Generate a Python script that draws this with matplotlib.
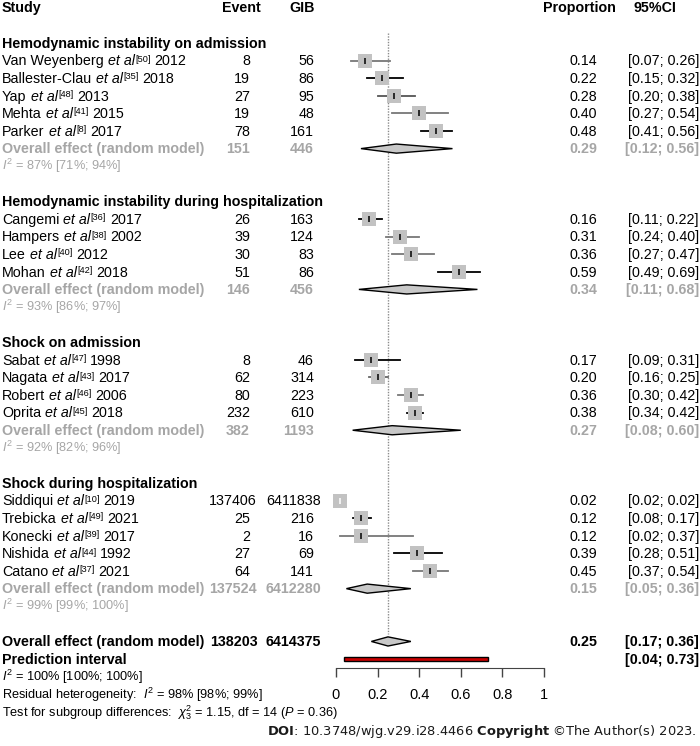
import matplotlib.pyplot as plt
import matplotlib.transforms as mtransforms

plt.rcParams['font.family'] = ['Liberation Sans', 'DejaVu Sans']
plt.rcParams['mathtext.fontset'] = 'custom'
plt.rcParams['mathtext.rm'] = 'Liberation Sans'
plt.rcParams['mathtext.it'] = 'Liberation Sans:italic'
plt.rcParams['mathtext.bf'] = 'Liberation Sans:bold'

# Data
group_names = ["Hemodynamic instability on admission",
               "Hemodynamic instability during hospitalization",
               "Shock on admission",
               "Shock during hospitalization"]
authors = [["Van Weyenberg", "Ballester-Clau", "Yap", "Mehta", "Parker"],
           ["Cangemi", "Hampers", "Lee", "Mohan"],
           ["Sabat", "Nagata", "Robert", "Oprita"],
           ["Siddiqui", "Trebicka", "Konecki", "Nishida", "Catano"]]
refs = [[50, 35, 48, 41, 8], [36, 38, 40, 42], [47, 43, 46, 45], [10, 49, 39, 44, 37]]
years = [[2012, 2018, 2013, 2015, 2017], [2017, 2002, 2012, 2018],
         [1998, 2017, 2006, 2018], [2019, 2021, 2017, 1992, 2021]]
events = [[8, 19, 27, 19, 78], [26, 39, 30, 51], [8, 62, 80, 232],
          [137406, 25, 2, 27, 64]]
gib = [[56, 86, 95, 48, 161], [163, 124, 83, 86], [46, 314, 223, 610],
       [6411838, 216, 16, 69, 141]]
prop = [[0.14, 0.22, 0.28, 0.40, 0.48], [0.16, 0.31, 0.36, 0.59],
        [0.17, 0.20, 0.36, 0.38], [0.02, 0.12, 0.12, 0.39, 0.45]]
ci_lo = [[0.07, 0.15, 0.20, 0.27, 0.41], [0.11, 0.24, 0.27, 0.49],
         [0.09, 0.16, 0.30, 0.34], [0.02, 0.08, 0.02, 0.28, 0.37]]
ci_hi = [[0.26, 0.32, 0.38, 0.54, 0.56], [0.22, 0.40, 0.47, 0.69],
         [0.31, 0.25, 0.42, 0.42], [0.02, 0.17, 0.37, 0.51, 0.54]]
sub_events = [151, 146, 382, 137524]
sub_gib = [446, 456, 1193, 6412280]
sub_prop = [0.29, 0.34, 0.27, 0.15]
sub_lo = [0.12, 0.11, 0.08, 0.05]
sub_hi = [0.56, 0.68, 0.60, 0.36]
sub_i2 = ["87% [71%; 94%]", "93% [86%; 97%]", "92% [82%; 96%]", "99% [99%; 100%]"]
total_events = 138203
total_gib = 6414375
total_prop = 0.25
total_ci = [0.17, 0.36]
pred_int = [0.04, 0.73]
total_i2 = "100% [100%; 100%]"
resid_i2 = "98% [98%; 99%]"
xticks = [0, 0.2, 0.4, 0.6, 0.8, 1]

# CI line shades as they appear in the picture
line_cols = [["#777777", "black", "#555555", "#777777", "black"],
             ["black", "#777777", "#777777", "black"],
             ["black", "#666666", "#777777", "black"],
             ["black", "black", "#777777", "black", "#777777"]]

GRAY = "#a6a6a6"
FS = 10.3
FS2 = 9.2
FS_SUP = 6.6

fig = plt.figure(figsize=(7, 7.46), dpi=100)
ax = fig.add_axes([0, 0, 1, 1])
ax.set_xlim(-336 / 208, 364 / 208)
ax.set_ylim(39.94, -2.443)
tr = mtransforms.blended_transform_factory(fig.transFigure, ax.transData)


def txt(xpx, row, s, ha="left", **kw):
    return ax.text(xpx / 700, row + 0.27, s, transform=tr, ha=ha, va="baseline", **kw)


def study_label(row, author, ref, year):
    # "Author et al[ref] year" built from pieces so the reference number sits like a superscript
    t1 = txt(2, row, author, fontsize=FS)
    t2 = ax.annotate("et al", xy=(1, 0), xycoords=t1, xytext=(2.9, 0), textcoords="offset points",
                     va="bottom", fontsize=FS, style="italic")
    t3 = ax.annotate("[%d]" % ref, xy=(1, 0), xycoords=t2, xytext=(0.4, 2.2 + 2.6),
                     textcoords="offset points", va="baseline", fontsize=FS_SUP)
    ax.annotate(str(year), xy=(1, 0), xycoords=(t3, t2), xytext=(2.6, 0), textcoords="offset points",
                va="bottom", fontsize=FS)


def num_x(base, v):
    # very long counts sit a little further right in the original
    return base + (7 if v >= 100000 else 0)


# header
hdr = -2.05
txt(2, hdr, "Study", fontsize=FS, fontweight="bold")
txt(261, hdr, "Event", ha="right", fontsize=FS, fontweight="bold")
txt(315, hdr, "GIB", ha="right", fontsize=FS, fontweight="bold")
txt(616, hdr, "Proportion", ha="right", fontsize=FS, fontweight="bold")
txt(676, hdr, "95%CI", ha="right", fontsize=FS, fontweight="bold")

ax.vlines(total_prop, -0.57, 33.6, colors="#8c8c8c", linestyles=(0, (1, 1)), lw=1)

row = 0
for g in range(4):
    txt(2, row, group_names[g], fontsize=FS, fontweight="bold")
    row += 1
    for i in range(len(authors[g])):
        study_label(row, authors[g][i], refs[g][i], years[g][i])
        txt(num_x(250, events[g][i]), row, str(events[g][i]), ha="right", fontsize=FS)
        txt(num_x(314, gib[g][i]), row, str(gib[g][i]), ha="right", fontsize=FS)
        txt(597, row, "%.2f" % prop[g][i], ha="right", fontsize=FS)
        txt(699, row, "[%.2f; %.2f]" % (ci_lo[g][i], ci_hi[g][i]), ha="right", fontsize=FS)
        if ci_hi[g][i] > ci_lo[g][i]:
            ax.plot([ci_lo[g][i], ci_hi[g][i]], [row, row], color=line_cols[g][i], lw=1.3, zorder=2)
            tick_col = "black"
        else:
            tick_col = "white"
        ax.plot(prop[g][i], row, marker="s", ms=9.8, color="#c2c2c2", mew=0, zorder=3)
        ax.plot(prop[g][i], row, marker="|", ms=5, color=tick_col, mew=1.1, zorder=4)
        row += 1
    txt(2, row, "Overall effect (random model)", fontsize=FS, fontweight="bold", color=GRAY)
    txt(num_x(250, sub_events[g]), row, str(sub_events[g]), ha="right", fontsize=FS,
        fontweight="bold", color=GRAY)
    txt(num_x(314, sub_gib[g]), row, str(sub_gib[g]), ha="right", fontsize=FS,
        fontweight="bold", color=GRAY)
    txt(597, row, "%.2f" % sub_prop[g], ha="right", fontsize=FS, fontweight="bold", color=GRAY)
    txt(699, row, "[%.2f; %.2f]" % (sub_lo[g], sub_hi[g]), ha="right", fontsize=FS,
        fontweight="bold", color=GRAY)
    ax.fill([sub_lo[g], sub_prop[g], sub_hi[g], sub_prop[g]],
            [row, row - 0.26, row, row + 0.26], facecolor="#c8c8c8", edgecolor="black", lw=1, zorder=3)
    row += 1
    txt(2, row - 0.05, r"$I^2$ = " + sub_i2[g], fontsize=FS2, color=GRAY)
    row += 2

# total
txt(2, row, "Overall effect (random model)", fontsize=FS, fontweight="bold")
txt(num_x(251, total_events), row, str(total_events), ha="right", fontsize=FS, fontweight="bold")
txt(num_x(314, total_gib), row, str(total_gib), ha="right", fontsize=FS, fontweight="bold")
txt(597, row, "%.2f" % total_prop, ha="right", fontsize=FS, fontweight="bold")
txt(699, row, "[%.2f; %.2f]" % tuple(total_ci), ha="right", fontsize=FS, fontweight="bold")
ax.fill([total_ci[0], total_prop, total_ci[1], total_prop],
        [row, row - 0.26, row, row + 0.26], facecolor="#c8c8c8", edgecolor="black", lw=1, zorder=3)
row += 1
txt(2, row, "Prediction interval", fontsize=FS, fontweight="bold")
txt(699, row, "[%.2f; %.2f]" % tuple(pred_int), ha="right", fontsize=FS, fontweight="bold")
ax.barh(row, pred_int[1] - pred_int[0], left=pred_int[0], height=0.22,
        color="#cc0000", edgecolor="black", lw=1, zorder=3)
row += 1
txt(2, row, r"$I^2$ = " + total_i2, fontsize=FS2)
txt(2, row + 1, r"Residual heterogeneity:  $I^2$ = " + resid_i2, fontsize=FS2)
txt(2, row + 2, r"Test for subgroup differences:  $\chi^2_3$ = 1.15, df = 14 ($\mathit{P}$ = 0.36)",
    fontsize=FS2)

# x axis
for s in ["top", "left", "right"]:
    ax.spines[s].set_visible(False)
ax.spines["bottom"].set_position(("data", 35.5))
ax.spines["bottom"].set_bounds(0, 1)
ax.spines["bottom"].set_color("#444444")
ax.set_xticks(xticks)
ax.set_xticklabels(["0", "0.2", "0.4", "0.6", "0.8", "1"])
ax.tick_params(axis="x", direction="out", length=6.5, width=1, color="#444444",
               pad=8, labelsize=10.5)
ax.set_yticks([])

# footer
ax.text(697 / 700, 39.3, r"$\mathbf{DOI}$: 10.3748/wjg.v29.i28.4466 $\mathbf{Copyright}$ ©The Author(s) 2023.",
        transform=tr, ha="right", va="baseline", fontsize=9.4, family="DejaVu Sans",
        math_fontfamily="dejavusans", color="#1a1a1a")

fig.savefig("out.png", dpi=100)
